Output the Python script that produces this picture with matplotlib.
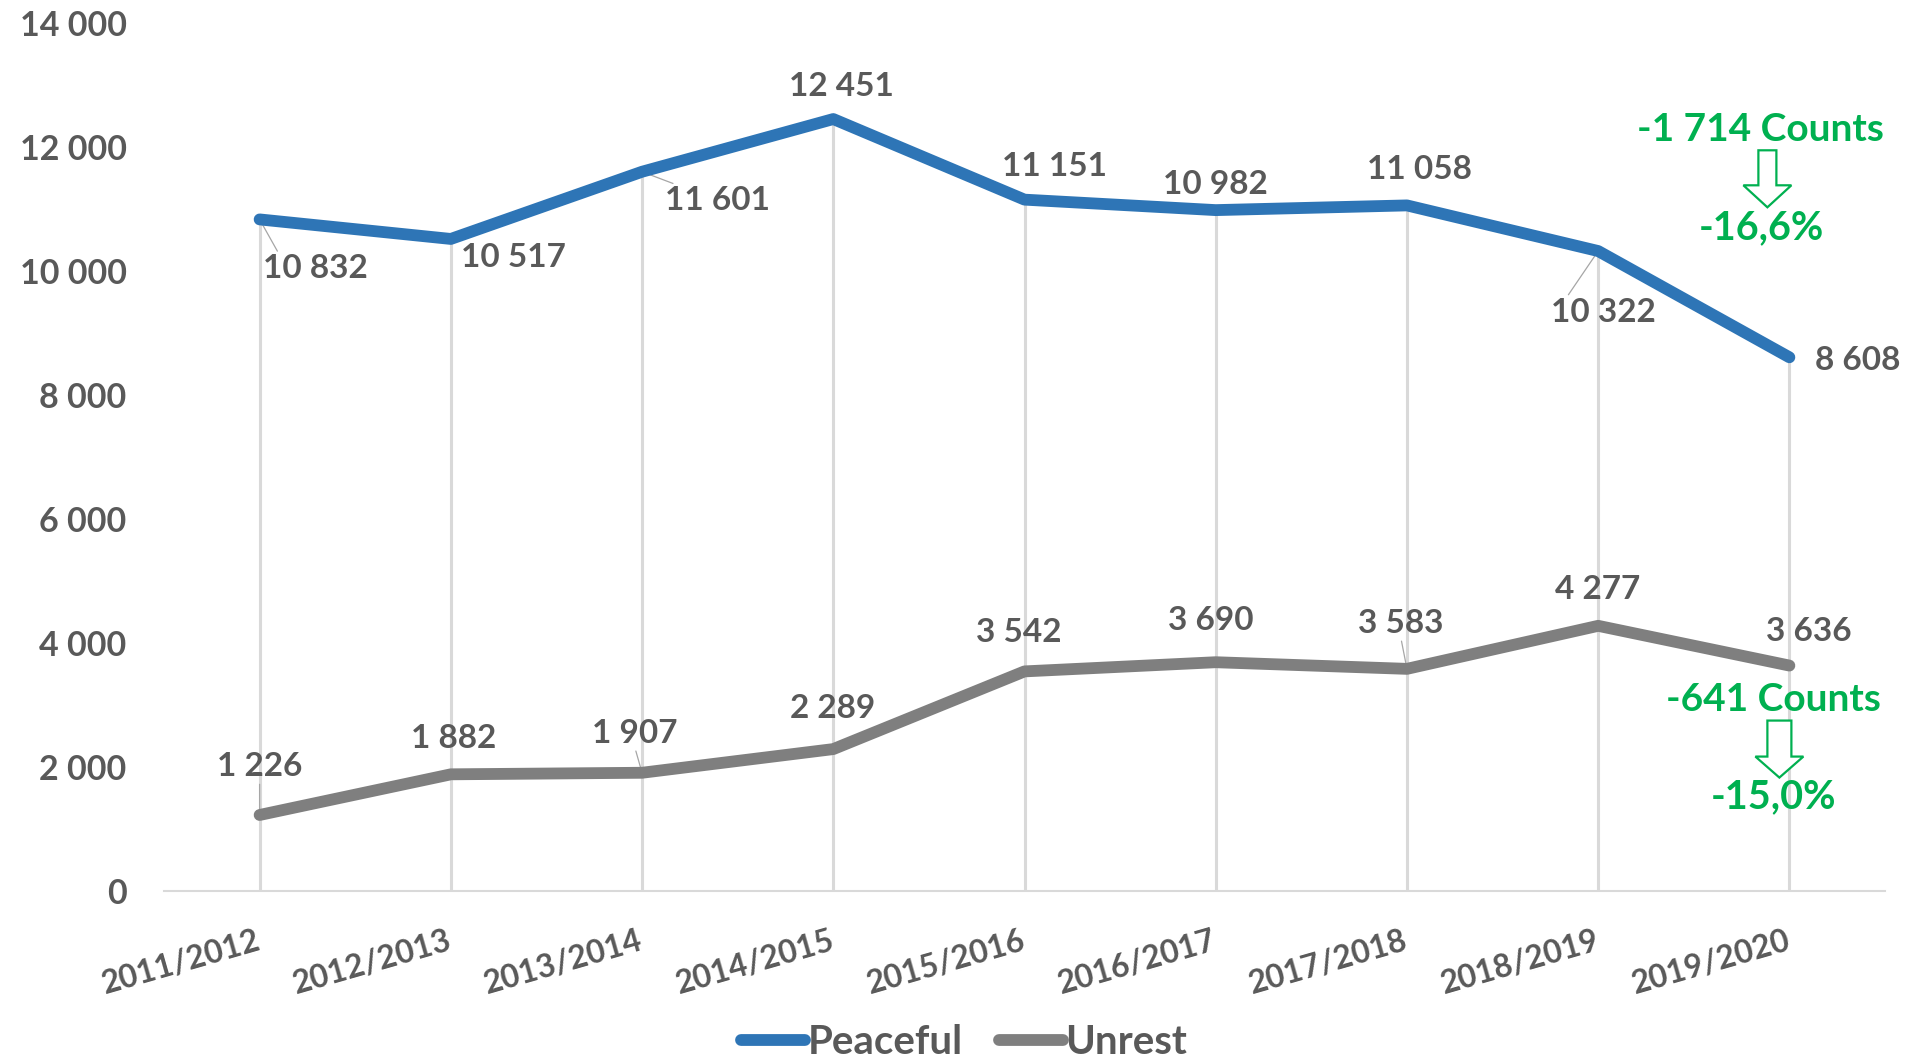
import matplotlib
matplotlib.use("Agg")
import matplotlib.pyplot as plt
import matplotlib.patches as mpatches
import matplotlib.transforms as mtransforms
from matplotlib.lines import Line2D

plt.rcParams['font.family'] = ['Lato', 'DejaVu Sans']
plt.rcParams['font.weight'] = 'bold'

seasons = ["2011/2012", "2012/2013", "2013/2014", "2014/2015", "2015/2016",
           "2016/2017", "2017/2018", "2018/2019", "2019/2020"]
peaceful = [10832, 10517, 11601, 12451, 11151, 10982, 11058, 10322, 8608]
unrest = [1226, 1882, 1907, 2289, 3542, 3690, 3583, 4277, 3636]
y_ticks = [0, 2000, 4000, 6000, 8000, 10000, 12000, 14000]

BLUE = "#2E75B6"
GREY = "#7F7F7F"
TEXT = "#595959"
GREEN = "#00B050"
DROP = "#D9D9D9"

# label placement, pixel offsets of the label centre from its point
peaceful_off = [(56, -49), (63, -19), (75, -29), (8, 33), (30, 33),
                (0, 26), (12, 36), (5, -61), (68, -3)]
unrest_off = [(0, 48), (3, 36), (-7, 39), (-1, 41), (-6, 39),
              (-5, 42), (-6, 45), (-1, 36), (19, 34)]
peaceful_leader = [True, False, True, False, False, False, False, True, False]
unrest_leader = [True, False, True, False, False, False, True, False, False]


def fmt(v):
    return f"{v:,}".replace(",", " ")


W, H, DPI = 1907, 1059, 100
fig = plt.figure(figsize=(W / DPI, H / DPI), dpi=DPI)
ax = fig.add_axes([164 / W, 1 - 891 / H, (1885 - 164) / W, (891 - 23) / H])

x = list(range(len(seasons)))
ax.set_xlim(-0.5, len(seasons) - 0.5)
ax.set_ylim(0, 14000)

# drop lines from the upper series down to the axis
tops = [max(p, u) for p, u in zip(peaceful, unrest)]
ax.vlines(x, 0, tops, color=DROP, lw=2.2, zorder=1)

ax.plot(x, peaceful, color=BLUE, lw=8.5, solid_capstyle='round',
        solid_joinstyle='round', zorder=4, label="Peaceful")
ax.plot(x, unrest, color=GREY, lw=8.5, solid_capstyle='round',
        solid_joinstyle='round', zorder=4, label="Unrest")

for s in ["top", "right", "left"]:
    ax.spines[s].set_visible(False)
ax.spines["bottom"].set_color(DROP)
ax.spines["bottom"].set_linewidth(1.5)

ax.set_yticks(y_ticks)
ax.set_yticklabels([fmt(v) for v in y_ticks], fontsize=24.5, color=TEXT,
                   fontweight='bold')
ax.tick_params(axis='y', length=0, pad=27)
ax.set_xticks(x)
ax.set_xticklabels(seasons, fontsize=23, color=TEXT, fontweight='bold',
                   rotation=16, ha='right', rotation_mode='anchor')
ax.tick_params(axis='x', length=0, pad=25)
shift = mtransforms.ScaledTranslation(-4 / DPI, 0, fig.dpi_scale_trans)
for lab in ax.get_xticklabels():
    lab.set_transform(lab.get_transform() + shift)


def labels(values, offsets, leaders):
    for i, (v, (dx, dy), lead) in enumerate(zip(values, offsets, leaders)):
        kw = {}
        if lead:
            rel = (0.15, 1.0) if dy < 0 else (0.5, 0.0)
            kw["arrowprops"] = dict(arrowstyle='-', color="#A6A6A6", lw=0.9,
                                    shrinkA=0, shrinkB=0, relpos=rel)
        ax.annotate(fmt(v), (i, v), xytext=(dx, dy), textcoords='offset pixels',
                    ha='center', va='center', fontsize=24, color=TEXT,
                    fontweight='bold', zorder=3, **kw)


labels(peaceful, peaceful_off, peaceful_leader)
labels(unrest, unrest_off, unrest_leader)

# change over the last season
last = len(seasons) - 1
for series, txt_off, pct_off, arrow in [
        (peaceful, (-29, 228), (-28, 130), (-22, 207, 172, 150, 9)),
        (unrest, (-16, -34), (-16, -131), (-10, -55, -91, -112, 12))]:
    diff = series[last] - series[last - 1]
    pct = diff / series[last - 1] * 100
    ax.annotate(f"{'-' if diff < 0 else '+'}{fmt(abs(diff))} Counts",
                (last, series[last]), xytext=txt_off,
                textcoords='offset pixels', ha='center', va='center',
                fontsize=28, color=GREEN, fontweight='bold',
                annotation_clip=False)
    ax.annotate(f"{pct:.1f}%".replace(".", ","),
                (last, series[last]), xytext=pct_off,
                textcoords='offset pixels', ha='center', va='center',
                fontsize=28.5, color=GREEN, fontweight='bold',
                annotation_clip=False)
    px, py = ax.transData.transform((last, series[last]))
    dx, top, head, tip, hw = arrow
    cx = px + dx
    verts = [(cx - hw, py + top), (cx + hw, py + top), (cx + hw, py + head),
             (cx + 24, py + head), (cx, py + tip), (cx - 24, py + head),
             (cx - hw, py + head)]
    fig.patches.append(mpatches.Polygon(verts, closed=True, facecolor='white',
                                        edgecolor=GREEN, lw=1.6,
                                        transform=None, figure=fig))

handles = [Line2D([], [], color=BLUE, lw=8.5, solid_capstyle='round'),
           Line2D([], [], color=GREY, lw=8.5, solid_capstyle='round')]
leg = fig.legend(handles, ["Peaceful", "Unrest"], loc='center',
                 bbox_to_anchor=(964 / W, 1 - 1043 / H), ncol=2, frameon=False,
                 handlelength=1.6, handletextpad=0.05, columnspacing=0.9,
                 prop={'size': 29, 'weight': 'bold'})
for t in leg.get_texts():
    t.set_color(TEXT)

fig.savefig("out.png", dpi=DPI)
